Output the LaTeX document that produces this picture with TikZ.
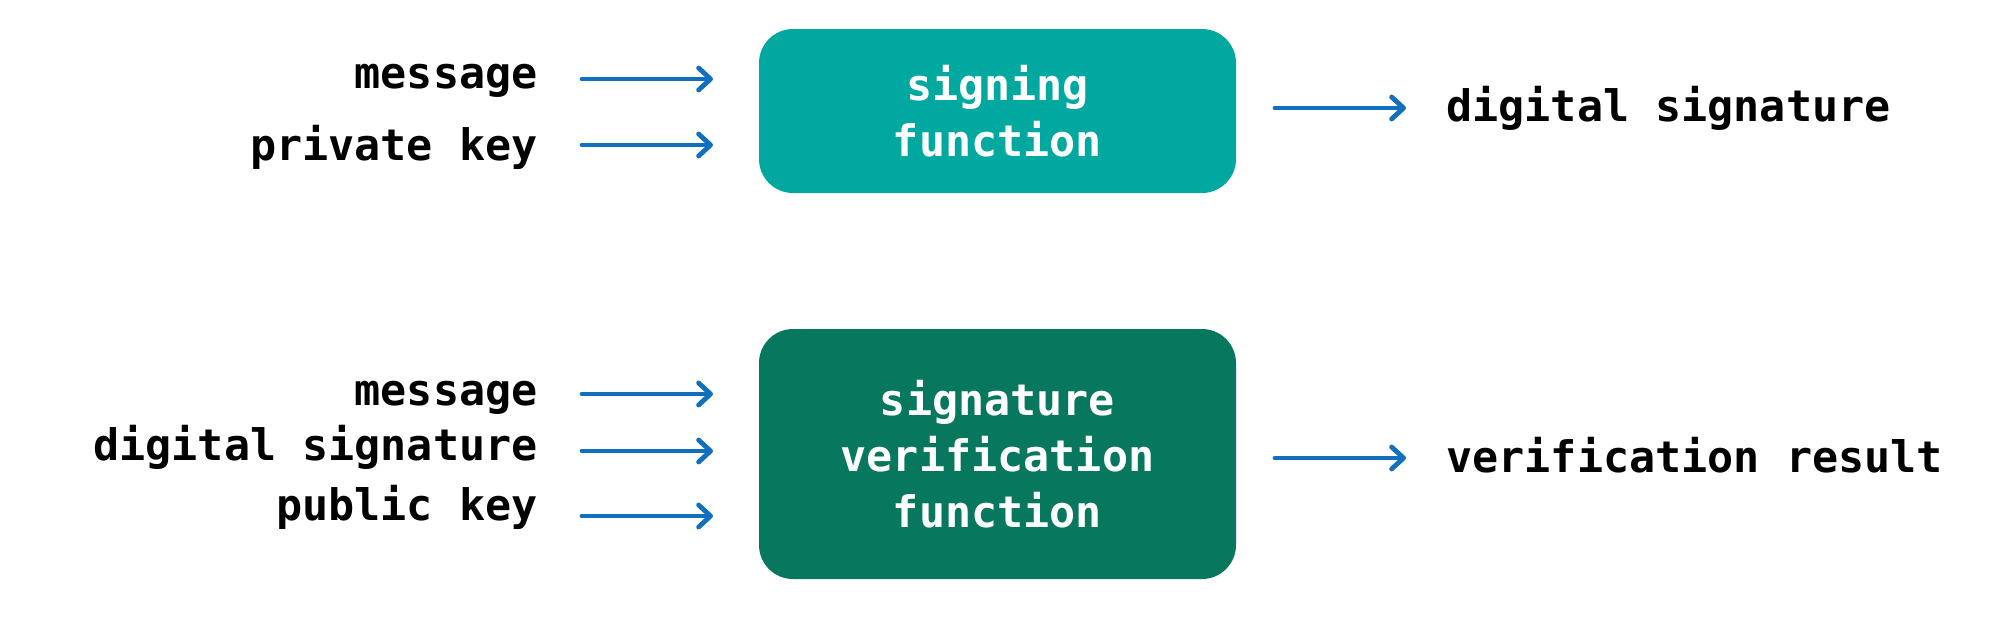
\documentclass[tikz,border=0pt]{standalone}
\usepackage{fontspec}
\setmonofont{DejaVu Sans Mono}
\usetikzlibrary{arrows.meta}
\definecolor{signteal}{RGB}{0,168,160}
\definecolor{verigreen}{RGB}{7,119,93}
\definecolor{arrowblue}{RGB}{16,112,190}
\begin{document}
\begin{tikzpicture}[x=0.5pt,y=-0.5pt,
  lbl/.style={font=\ttfamily\bfseries\fontsize{21.7pt}{28pt}\selectfont, text=black, inner sep=0pt},
  fbox/.style={rounded corners=17pt, minimum width=238.5pt, inner sep=0pt,
     font=\ttfamily\bfseries\fontsize{21.7pt}{28pt}\selectfont, text=white, align=center},
  flow/.style={draw=arrowblue, line width=2.4pt, line cap=round,
     -{Straight Barb[length=6pt,width=11pt,line cap=round,line join=round]}}]
\useasboundingbox (0,0) rectangle (1999,617);
% boxes
\node[fbox, fill=signteal, minimum height=82pt] (sign) at (997.5,111) {signing\\function};
\node[fbox, fill=verigreen, minimum height=125pt] (verify) at (997.5,454) {signature\\verification\\function};
% top labels
\node[lbl, anchor=base east] (m1) at (538,88) {message};
\node[lbl, anchor=base east] (pk) at (538,160) {private key};
\node[lbl, anchor=base west] (ds1) at (1446,121) {digital signature};
% bottom labels
\node[lbl, anchor=base east] (m2) at (538,405) {message};
\node[lbl, anchor=base east] (ds2) at (538,460) {digital signature};
\node[lbl, anchor=base east] (pub) at (538,520) {public key};
\node[lbl, anchor=base west] (vr) at (1446,472) {verification result};
% arrow end points
\coordinate (a1s) at (582,79);  \coordinate (a1e) at (713,79);
\coordinate (a2s) at (582,145); \coordinate (a2e) at (713,145);
\coordinate (a3s) at (1275,108); \coordinate (a3e) at (1406,108);
\coordinate (b1s) at (582,394); \coordinate (b1e) at (713,394);
\coordinate (b2s) at (582,451); \coordinate (b2e) at (713,451);
\coordinate (b3s) at (582,516); \coordinate (b3e) at (713,516);
\coordinate (b4s) at (1275,458); \coordinate (b4e) at (1406,458);
\draw[flow] (a1s) -- (a1e);
\draw[flow] (a2s) -- (a2e);
\draw[flow] (a3s) -- (a3e);
\draw[flow] (b1s) -- (b1e);
\draw[flow] (b2s) -- (b2e);
\draw[flow] (b3s) -- (b3e);
\draw[flow] (b4s) -- (b4e);
\end{tikzpicture}
\end{document}
